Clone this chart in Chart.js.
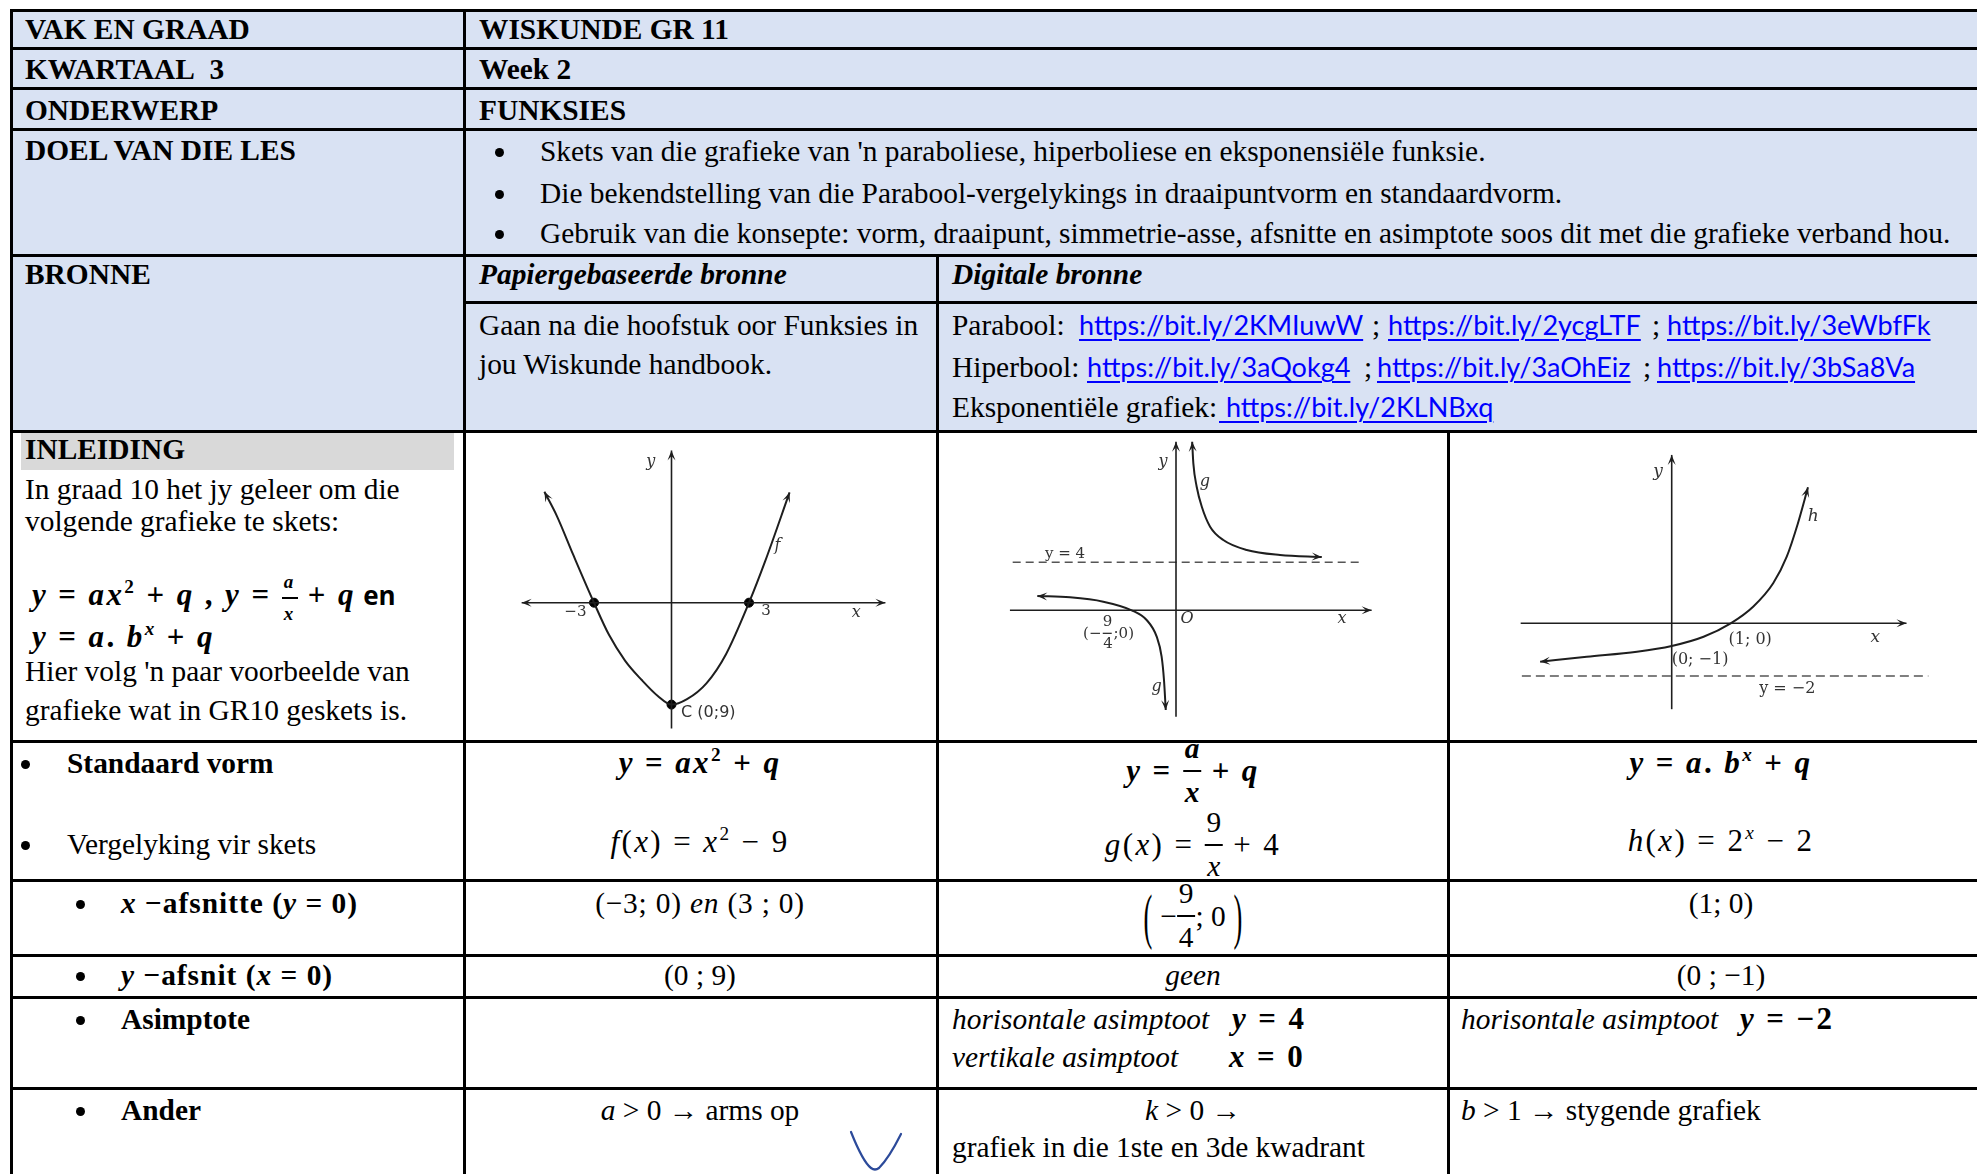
<!DOCTYPE html>
<html><head><meta charset="utf-8">
<script src="https://cdn.jsdelivr.net/npm/chart.js@4.4.1/dist/chart.umd.min.js"></script>
<style>
body{margin:0;background:#fff;}
#page{position:relative;width:1977px;height:1174px;overflow:hidden;font-family:"Liberation Serif","Times New Roman",serif;font-size:29.4px;color:#000;}
.blk{position:absolute;}
.t{position:absolute;white-space:nowrap;line-height:34px;}
.f{position:absolute;white-space:nowrap;line-height:34px;display:flex;align-items:center;height:0;}
.c{transform:translateX(-50%);}
.b{font-weight:bold;}
.i{font-style:italic;}
.bi{font-weight:bold;font-style:italic;}
.m{font-size:31px;letter-spacing:2.4px;}
.lnk{font-family:Lato,"Open Sans",sans-serif;color:#0000ff;text-decoration:underline;text-decoration-thickness:2px;text-underline-offset:4px;font-size:27px;}
canvas{position:absolute;}
.frac{display:inline-flex;flex-direction:column;vertical-align:middle;text-align:center;line-height:1.15;}
.frac>span:first-child{border-bottom:2px solid #000;padding:0 2px 4px 2px;}
.frac>span:last-child{padding-top:4px;}
.par{display:inline-block;transform:scale(0.9,2.1);}
sup{font-size:0.62em;line-height:0;vertical-align:0.6em;}
.sans{font-family:"Open Sans",Lato,sans-serif;}
</style></head>
<body><div id="page"></div>
<script>
// ---------- chart data ----------
// Graph f(x) = x^2 - 9 (sketch)
const fX = [-4.92, -4.44, -3.81, -3, -2.42, -1.80, -1.16, -0.53, 0, 0.60, 1.36, 2.11, 3, 3.63, 4.57];
const fY = [9.80, 7.67, 4.26, 0, -2.84, -5.11, -6.81, -8.24, -9, -8.52, -7.10, -4.55, 0, 3.69, 9.74];
const fDotX = [-3, 3, 0];
const fDotY = [0, 0, -9];
// Graph g(x) = 9/x + 4 (sketch)
const gUpperX = [0.82, 0.88, 1.05, 1.31, 1.73, 2.40, 3.59, 5.28, 7.40];
const gUpperY = [14.05, 12.25, 10.30, 8.63, 6.97, 5.86, 5.03, 4.61, 4.44];
const gLowerX = [-7.04, -5.38, -3.69, -2.25, -1.49, -0.98, -0.73, -0.61, -0.52];
const gLowerY = [1.19, 1.08, 0.72, 0, -0.81, -2.2, -3.86, -5.81, -8.31];
const gAsym = 4;
// Graph h(x) = 2^x - 2 (sketch)
const hX = [-2.23, -1.44, -0.59, 0, 0.54, 1.0, 1.38, 1.72, 1.95, 2.14, 2.31];
const hY = [-1.46, -1.27, -1.08, -0.86, -0.51, 0, 0.63, 1.52, 2.53, 3.80, 5.16];
const hAsym = -2;
// axis extents [from, to]
const fAxisX = [-5.80, 8.28], fAxisY = [-11.10, 13.44];
const gAxisX = [-8.43, 9.93], gAxisY = [-8.87, 14.05], gAsymX = [-8.29, 9.30];
const hAxisX = [-2.56, 3.98], hAxisY = [-3.26, 6.39], hAsymX = [-2.54, 4.35];
// view ranges
const fRange = {x: [-7.819, 10.064], y: [-11.729, 14.676]};
const gRange = {x: [-12.132, 13.807], y: [-10.892, 14.942]};
const hRange = {x: [-3.792, 5.175], y: [-4.467, 7.298]};

// ---------- table layout ----------
const page = document.getElementById('page');
function blk(l, t, w, h, bg, r){const d=document.createElement('div');d.className='blk';d.style.cssText=`left:${l}px;top:${t}px;width:${w}px;height:${h}px;background:${bg}`+(r?';border-radius:50%':'');page.appendChild(d);}
blk(11,10,1966,421,'#D9E2F3');
blk(21,433,433,37,'#D9D9D9');
function frac(n,d,fs){return `<span class="frac"${fs?` style="font-size:${fs}px"`:''}><span>${n}</span><span>${d}</span></span>`;}
function link(s){return `<span class="lnk">${s}</span>`;}
const T = [
 [25,29,'VAK EN GRAAD','b'],[479,29,'WISKUNDE GR 11','b'],
 [25,69,'KWARTAAL&nbsp; 3','b'],[479,69,'Week 2','b'],
 [25,110,'ONDERWERP','b'],[479,110,'FUNKSIES','b'],
 [25,150,'DOEL VAN DIE LES','b'],
 [540,151,"Skets van die grafieke van 'n paraboliese, hiperboliese en eksponensiële funksie."],
 [540,193,'Die bekendstelling van die Parabool-vergelykings in draaipuntvorm en standaardvorm.'],
 [540,233,'Gebruik van die konsepte: vorm, draaipunt, simmetrie-asse, afsnitte en asimptote soos dit met die grafieke verband hou.'],
 [25,274,'BRONNE','b'],[479,274,'Papiergebaseerde bronne','b i'],[952,274,'Digitale bronne','b i'],
 [479,325,'Gaan na die hoofstuk oor Funksies in'],[479,364,'jou Wiskunde handbook.'],
 [952,325,'Parabool:'],[1079,325,link('https://bit.ly/2KMIuwW')],[1372,325,';'],[1388,325,link('https://bit.ly/2ycgLTF')],[1652,325,';'],[1667,325,link('https://bit.ly/3eWbfFk')],
 [952,367,'Hiperbool:'],[1087,367,link('https://bit.ly/3aQokg4')],[1364,367,';'],[1377,367,link('https://bit.ly/3aOhEiz')],[1643,367,';'],[1657,367,link('https://bit.ly/3bSa8Va')],
 [952,407,'Eksponentiële grafiek:'],[1219,407,link('&nbsp;https://bit.ly/2KLNBxq')],
 [25,449,'INLEIDING','b'],[25,489,'In graad 10 het jy geleer om die'],[25,521,'volgende grafieke te skets:'],
 [32,588,'<span class="m"><b><i>y</i> = <i>ax</i><sup>2</sup> + <i>q</i> , <i>y</i> = '+frac('<i>a</i>','<i>x</i>',19)+' + <i>q</i></b></span> <span class="sans b" style="font-size:26px">en</span>'],
 [32,637,'<span class="m"><b><i>y</i> = <i>a</i>. <i>b<sup>x</sup></i> + <i>q</i></b></span>'],
 [25,671,"Hier volg 'n paar voorbeelde van"],[25,710,'grafieke wat in GR10 geskets is.'],
 [67,763,'Standaard vorm','b'],[67,844,'Vergelyking vir skets'],
 [121,903,'<span style="letter-spacing:1px"><i>x</i> −afsnitte (<i>y</i> = 0)</span>','b'],
 [121,975,'<span style="letter-spacing:1px"><i>y</i> −afsnit (<i>x</i> = 0)</span>','b'],
 [121,1019,'Asimptote','b'],
 [121,1110,'Ander','b'],
 [700,763,'<span class="m"><b><i>y</i> = <i>ax</i><sup>2</sup> + <i>q</i></b></span>','c'],
 [700,842,'<span class="m"><i>f</i>(<i>x</i>) = <i>x</i><sup>2</sup> − 9</span>','c'],
 [700,903,'<span style="letter-spacing:0.8px">(−3; 0) <i>en</i> (3 ; 0)</span>','c'],
 [700,975,'(0 ; 9)','c'],
 [700,1110,'<i>a</i> &gt; 0 → arms op','c'],
 [1193,975,'<i>geen</i>','c'],
 [952,1019,'<i>horisontale asimptoot</i>'],[1232,1019,'<b><i>y</i> = 4</b>','m'],
 [952,1057,'<i>vertikale asimptoot</i>'],[1229,1057,'<b><i>x</i> = 0</b>','m'],
 [1193,1110,'<i>k</i> &gt; 0 →','c'],
 [952,1147,'grafiek in die 1ste en 3de kwadrant'],
 [1721,763,'<span class="m"><b><i>y</i> = <i>a</i>. <i>b<sup>x</sup></i> + <i>q</i></b></span>','c'],
 [1721,841,'<span class="m"><i>h</i>(<i>x</i>) = 2<sup><i>x</i></sup> − 2</span>','c'],
 [1721,903,'(1; 0)','c'],
 [1721,975,'(0 ; −1)','c'],
 [1461,1019,'<i>horisontale asimptoot</i>'],[1740,1019,'<b><i>y</i> = −2</b>','m'],
 [1461,1110,'<i>b</i> &gt; 1 → stygende grafiek']
];
T.forEach(([x,cy,html,cls])=>{const d=document.createElement('div');d.className='t '+(cls||'');d.style.left=x+'px';d.style.top=(cy-17)+'px';d.innerHTML=html;page.appendChild(d);});
// items with stacked fractions (vertically centred on cy)
const F = [
 [1193,771,'<span class="bi m">y</span><span class="b m">&nbsp;=&nbsp;</span>'+frac('<b><i>a</i></b>','<b><i>x</i></b>')+'<span class="b m">&nbsp;+&nbsp;</span><span class="bi m">q</span>'],
 [1193,845,'<span class="i m">g</span><span class="m">(</span><span class="i m">x</span><span class="m">)&nbsp;=&nbsp;</span>'+frac('9','<i>x</i>')+'<span class="m">&nbsp;+ 4</span>'],
 [1193,916,'<span class="par">(</span><span>&nbsp;−</span>'+frac('9','4')+'<span>; 0&nbsp;</span><span class="par">)</span>']
];
F.forEach(([x,cy,html])=>{const d=document.createElement('div');d.className='f c';d.style.left=x+'px';d.style.top=cy+'px';d.innerHTML=html;page.appendChild(d);});
// bullets
[[499,151],[499,193],[499,233],[25,763],[25,844],[80,903],[80,975],[80,1019],[80,1110]].forEach(([x,y])=>blk(x-4.5,y-3.5,9,9,'#000',true));

// canvases
function cv(id,l,t,w,h){const c=document.createElement('canvas');c.id=id;c.width=w;c.height=h;c.style.left=l+'px';c.style.top=t+'px';c.style.width=w+'px';c.style.height=h+'px';page.appendChild(c);return c;}
const c1=cv('c1',464,431,473,310), c2=cv('c2',937,431,511,310), c3=cv('c3',1448,431,529,310);

// table lines
const H=[[10,11,1977],[48,11,1977],[88,11,1977],[129,11,1977],[255,11,1977],[302,464,1977],[431,11,1977],[741,11,1977],[880,11,1977],[955,11,1977],[997,11,1977],[1088,11,1977]];
const V=[[11,10,1174],[464,10,1174],[937,255,1174],[1448,431,1174]];
H.forEach(([y,a,b])=>blk(a-1.5,y-1.5,b-a+3,3,'#000'));
V.forEach(([x,a,b])=>blk(x-1.5,a-1.5,3,b-a+3,'#000'));

// hand-drawn V
const svg=document.createElementNS('http://www.w3.org/2000/svg','svg');
svg.setAttribute('width','70');svg.setAttribute('height','50');
svg.style.cssText='position:absolute;left:845px;top:1128px;';
svg.innerHTML='<path d="M6 4 Q18 34 26 40 Q30 43 34 40 Q44 30 56 6" fill="none" stroke="#2C4A9A" stroke-width="2.2" stroke-linecap="round"/>';
page.appendChild(svg);

// ---------- Chart.js ----------
const pts=(xs,ys)=>xs.map((x,i)=>({x,y:ys[i]}));
const seg=(xr,y)=>[{x:xr[0],y},{x:xr[1],y}];
const vseg=(x,yr)=>[{x,y:yr[0]},{x,y:yr[1]}];

const arrowPlugin={id:'arrowheads',afterDatasetsDraw(chart){
  const ctx=chart.ctx;
  chart.data.datasets.forEach((ds,i)=>{
    if(!ds.arrows)return;
    const p=chart.getDatasetMeta(i).data;const n=p.length;
    const draw=(tip,from)=>{
      const a=Math.atan2(tip.y-from.y,tip.x-from.x);const L=10,W=4;
      const cx=Math.cos(a),sx=Math.sin(a);
      ctx.save();ctx.fillStyle=ds.borderColor;ctx.beginPath();
      ctx.moveTo(tip.x,tip.y);
      ctx.lineTo(tip.x-L*cx+W*sx,tip.y-L*sx-W*cx);
      ctx.lineTo(tip.x-0.55*L*cx,tip.y-0.55*L*sx);
      ctx.lineTo(tip.x-L*cx-W*sx,tip.y-L*sx+W*cx);
      ctx.closePath();ctx.fill();ctx.restore();
    };
    const near=(pt,cx,cy,alt)=>{if(cx!==undefined&&cy!==undefined&&Math.hypot(cx-pt.x,cy-pt.y)>0.8)return{x:cx,y:cy};return alt;};
    if(ds.arrows==='end'||ds.arrows==='both'){const q=p[n-1];draw(q,near(q,q.cp1x,q.cp1y,p[n-2]));}
    if(ds.arrows==='start'||ds.arrows==='both'){const q=p[0];draw(q,near(q,q.cp2x,q.cp2y,p[1]));}
  });
}};
const notePlugin={id:'notes',afterDraw(chart,args,opts){
  const ctx=chart.ctx,xs=chart.scales.x,ys=chart.scales.y;
  (opts.items||[]).forEach(n=>{
    const px=xs.getPixelForValue(n.x),py=ys.getPixelForValue(n.y);
    ctx.save();ctx.fillStyle=n.color||'#333';ctx.strokeStyle=n.color||'#333';
    if(n.bar){ctx.lineWidth=1.3;ctx.beginPath();ctx.moveTo(px-n.bar/2,py);ctx.lineTo(px+n.bar/2,py);ctx.stroke();}
    else{ctx.font=n.font;ctx.textAlign=n.align||'center';ctx.textBaseline='middle';ctx.fillText(n.t,px,py);}
    ctx.restore();
  });
}};
const INK='#1e1e1e';
const line=(data,extra)=>Object.assign({data,showLine:true,pointRadius:0,borderColor:INK,borderWidth:1.7,fill:false,clip:false},extra||{});
const curve=(data,extra)=>line(data,Object.assign({cubicInterpolationMode:'monotone',borderWidth:2},extra||{}));
function make(canvas,range,datasets,notes){
  return new Chart(canvas,{type:'scatter',data:{datasets},
    options:{responsive:false,animation:false,events:[],layout:{padding:0},
      plugins:{legend:{display:false},tooltip:{enabled:false},notes:{items:notes}},
      scales:{x:{type:'linear',display:false,min:range.x[0],max:range.x[1]},y:{type:'linear',display:false,min:range.y[0],max:range.y[1]}}},
    plugins:[arrowPlugin,notePlugin]});
}
const IV='italic 16px "DejaVu Serif"', NV='15px "DejaVu Serif"';
const fNotes=[
 {t:'y',x:-0.80,y:12.42,font:IV},{t:'f',x:4.10,y:5.0,font:IV},
 {t:'−3',x:-3.72,y:-0.86,font:NV},{t:'3',x:3.66,y:-0.72,font:NV},
 {t:'x',x:7.15,y:-0.86,font:IV},{t:'C (0;9)',x:0.37,y:-9.77,font:'16px "DejaVu Sans"',align:'left'}
];
make(c1,fRange,[
 line(seg(fAxisX,0),{arrows:'both',borderWidth:1.6}),
 line(vseg(0,fAxisY),{arrows:'end',borderWidth:1.6}),
 curve(pts(fX,fY),{arrows:'both'}),
 {data:pts(fDotX,fDotY),pointRadius:4.5,pointBackgroundColor:'#000',pointBorderColor:'#000',showLine:false}
],fNotes);

const G15='15px "DejaVu Serif"';
const gNotes=[
 {t:'y',x:-0.66,y:12.36,font:IV},{t:'g',x:1.47,y:10.69,font:IV},
 {t:'y = 4',x:-5.63,y:4.69,font:G15},
 {t:'O',x:0.56,y:-0.73,font:IV},{t:'x',x:8.43,y:-0.73,font:IV},
 {t:'9',x:-3.48,y:-0.95,font:G15},{bar:9,x:-3.49,y:-1.92},{t:'4',x:-3.45,y:-2.85,font:G15},
 {t:'(−',x:-3.78,y:-2.0,font:G15,align:'right'},{t:';0)',x:-3.17,y:-2.0,font:G15,align:'left'},
 {t:'g',x:-0.98,y:-6.35,font:IV}
];
make(c2,gRange,[
 line(seg(gAxisX,0),{arrows:'end',borderWidth:1.6}),
 line(vseg(0,gAxisY),{arrows:'end',borderWidth:1.6}),
 line(seg(gAsymX,gAsym),{borderDash:[8,5],borderColor:'#555',borderWidth:1.5}),
 curve(pts(gUpperX,gUpperY),{arrows:'both'}),
 curve(pts(gLowerX,gLowerY),{arrows:'both'})
],gNotes);

const hNotes=[
 {t:'y',x:-0.23,y:5.75,font:'italic 17px "DejaVu Serif"'},{t:'h',x:2.40,y:4.05,font:'italic 17px "DejaVu Serif"'},
 {t:'(1; 0)',x:1.33,y:-0.63,font:'16px "DejaVu Serif"'},{t:'x',x:3.45,y:-0.56,font:'italic 17px "DejaVu Serif"'},
 {t:'(0; −1)',x:0.48,y:-1.37,font:'16px "DejaVu Serif"'},{t:'y = −2',x:1.96,y:-2.49,font:'16px "DejaVu Serif"'}
];
make(c3,hRange,[
 line(seg(hAxisX,0),{arrows:'end',borderWidth:1.6}),
 line(vseg(0,hAxisY),{arrows:'end',borderWidth:1.6}),
 line(seg(hAsymX,hAsym),{borderDash:[9,5],borderColor:'#555',borderWidth:1.5}),
 curve(pts(hX,hY),{arrows:'both'})
],hNotes);
</script>
</body></html>
